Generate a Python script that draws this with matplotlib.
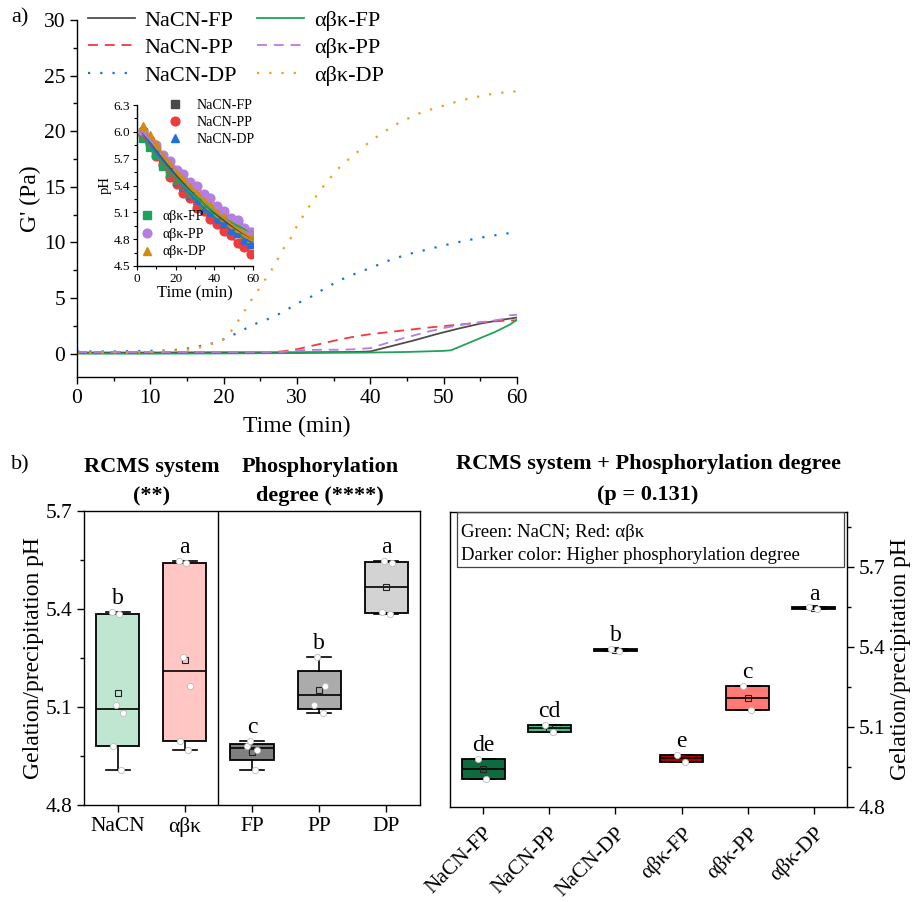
import numpy as np
import matplotlib
matplotlib.use('Agg')
import matplotlib.pyplot as plt
from matplotlib.ticker import MultipleLocator
from matplotlib.patches import Rectangle

plt.rcParams['font.family'] = ['Liberation Serif', 'DejaVu Serif']
plt.rcParams['axes.linewidth'] = 1.0
plt.rcParams['xtick.direction'] = 'out'
plt.rcParams['ytick.direction'] = 'out'

# ---------------- Panel a: G' (Pa) vs time ----------------
g_labels = ['NaCN-FP', 'NaCN-PP', 'NaCN-DP', 'αβκ-FP', 'αβκ-PP', 'αβκ-DP']
g_colors = ['#4d4d4d', '#ee3b3b', '#1f6fe0', '#1fa35c', '#b47fe0', '#f29f1c']

t_nacn_fp = [0, 10, 20, 30, 38, 40, 43, 46, 49, 52, 55, 58, 60]
g_nacn_fp = [0.1, 0.1, 0.12, 0.12, 0.15, 0.2, 0.7, 1.2, 1.75, 2.25, 2.7, 3.05, 3.25]
t_nacn_pp = [0, 10, 20, 26, 28, 30, 32, 34, 36, 38, 40, 42, 44, 46, 48, 50, 52, 55, 58, 60]
g_nacn_pp = [0.15, 0.15, 0.15, 0.15, 0.2, 0.4, 0.7, 1.0, 1.3, 1.55, 1.75, 1.9, 2.05, 2.2, 2.35, 2.48, 2.6, 2.8, 2.95, 3.0]
t_nacn_dp = [0, 5, 10, 13, 15, 17, 19, 20, 22, 24, 26, 28, 30, 32, 34, 36, 38, 40, 43, 45.5, 48, 50, 52.5, 55, 57.5, 60]
g_nacn_dp = [0.2, 0.2, 0.25, 0.3, 0.45, 0.7, 1.0, 1.3, 1.9, 2.6, 3.1, 3.7, 4.5, 5.15, 5.95, 6.65, 7.2, 7.7, 8.5, 9.0, 9.4, 9.73, 10.1, 10.42, 10.7, 10.93]
t_abk_fp = [0, 10, 20, 30, 40, 45, 50, 51, 53, 55, 57, 59, 60]
g_abk_fp = [0.0, 0.0, 0.02, 0.05, 0.1, 0.15, 0.25, 0.3, 0.85, 1.4, 1.95, 2.6, 3.05]
t_abk_pp = [0, 10, 20, 28, 30, 33, 36, 38, 40, 42, 44, 46, 48, 50, 52, 54, 56, 58, 59, 60]
g_abk_pp = [0.15, 0.15, 0.15, 0.15, 0.3, 0.35, 0.35, 0.4, 0.5, 0.9, 1.3, 1.65, 2.0, 2.3, 2.55, 2.75, 2.9, 3.1, 3.45, 3.5]
t_abk_dp = [0, 5, 10, 13, 15, 17, 19, 20, 21, 22, 23, 24, 25, 26, 27, 28, 29, 30, 32, 34, 36, 38, 40, 42, 44, 47, 50, 52.5, 55, 57, 60]
g_abk_dp = [0.1, 0.1, 0.15, 0.25, 0.35, 0.6, 1.0, 1.3, 2.0, 2.97, 4.0, 5.07, 6.0, 7.0, 8.0, 9.3, 10.2, 11.5, 13.6, 15.4, 16.9, 18.0, 19.1, 20.0, 20.8, 21.7, 22.3, 22.8, 23.15, 23.4, 23.6]

# ---------------- Inset: pH vs time ----------------
ph_time = [3, 6.5, 10, 13.5, 17, 20.5, 24, 27.5, 31, 34.5, 38, 41.5, 45, 48.5, 52, 55.5, 59]
ph_nacn_fp = [6.00, 5.89, 5.80, 5.67, 5.59, 5.48, 5.42, 5.33, 5.28, 5.19, 5.15, 5.07, 5.03, 4.95, 4.92, 4.85, 4.80]
ph_nacn_pp = [5.97, 5.87, 5.73, 5.63, 5.49, 5.42, 5.32, 5.26, 5.15, 5.11, 5.02, 4.97, 4.89, 4.85, 4.76, 4.71, 4.63]
ph_nacn_dp = [6.02, 5.86, 5.78, 5.64, 5.56, 5.45, 5.39, 5.29, 5.24, 5.15, 5.10, 5.02, 4.98, 4.90, 4.87, 4.79, 4.75]
ph_abk_fp = [5.93, 5.83, 5.75, 5.62, 5.54, 5.46, 5.41, 5.32, 5.28, 5.19, 5.15, 5.08, 5.05, 4.98, 4.96, 4.90, 4.88]
ph_abk_pp = [6.01, 5.91, 5.85, 5.74, 5.67, 5.57, 5.53, 5.44, 5.40, 5.30, 5.26, 5.17, 5.12, 5.04, 5.01, 4.92, 4.88]
ph_abk_dp = [6.06, 5.96, 5.86, 5.73, 5.65, 5.54, 5.48, 5.38, 5.32, 5.23, 5.18, 5.09, 5.05, 4.97, 4.93, 4.86, 4.81]
ph_colors = ['#4a4a4a', '#ee3b3b', '#1f6fe0', '#1fa35c', '#b47fe0', '#d08c10']
ph_markers = ['s', 'o', '^', 's', 'o', '^']

# ---------------- Panel b: gelation / precipitation pH ----------------
rep_nacn_fp = [4.980, 4.906]
rep_nacn_pp = [5.107, 5.082]
rep_nacn_dp = [5.392, 5.384]
rep_abk_fp = [4.996, 4.969]
rep_abk_pp = [5.254, 5.165]
rep_abk_dp = [5.548, 5.540]

left_labels = ['NaCN', 'αβκ', 'FP', 'PP', 'DP']
left_letters = ['b', 'a', 'c', 'b', 'a']
left_colors = ['#bfe6d0', '#ffc6c4', '#808080', '#ababab', '#d3d3d3']

right_labels = ['NaCN-FP', 'NaCN-PP', 'NaCN-DP', 'αβκ-FP', 'αβκ-PP', 'αβκ-DP']
right_letters = ['de', 'cd', 'b', 'e', 'c', 'a']
right_colors = ['#0e6b3f', '#4dba88', '#1a8a56', '#b00000', '#ff7a76', '#e03030']

FS_TICK = 15.5
FS_LAB = 17

fig = plt.figure(figsize=(9.21, 9.02), dpi=100)
W, H = 921.0, 902.0


def axes_px(x0, y0, x1, y1):
    return fig.add_axes([x0 / W, 1 - y1 / H, (x1 - x0) / W, (y1 - y0) / H])


# ===== panel a =====
ax = axes_px(77, 20, 517, 377)
dash = (0, (5.5, 3.8))
dot = (0, (1, 4.5))
styles = ['-', dash, dot, '-', dash, dot]
t_all = [t_nacn_fp, t_nacn_pp, t_nacn_dp, t_abk_fp, t_abk_pp, t_abk_dp]
g_all = [g_nacn_fp, g_nacn_pp, g_nacn_dp, g_abk_fp, g_abk_pp, g_abk_dp]
handles = []
for t, g, c, s, lab in zip(t_all, g_all, g_colors, styles, g_labels):
    lw = 1.6 if s == dot else 1.3
    h, = ax.plot(t, g, color=c, linestyle=s, lw=lw, label=lab)
    handles.append(h)
ax.set_xlim(0, 60)
ax.set_ylim(-2.1, 30)
ax.xaxis.set_major_locator(MultipleLocator(10))
ax.xaxis.set_minor_locator(MultipleLocator(5))
ax.yaxis.set_major_locator(MultipleLocator(5))
ax.yaxis.set_minor_locator(MultipleLocator(2.5))
ax.spines['top'].set_visible(False)
ax.spines['right'].set_visible(False)
ax.tick_params(labelsize=FS_TICK, length=5, width=1.0)
ax.tick_params(which='minor', length=3, width=1.0)
ax.set_xlabel('Time (min)', fontsize=FS_LAB, labelpad=6)
ax.set_ylabel("G' (Pa)", fontsize=FS_LAB)
ax.yaxis.set_label_coords(-0.082, 0.5)
leg = ax.legend(handles=handles, ncol=2, loc='upper left', frameon=False,
                bbox_to_anchor=(88 / W, 1 - 10 / H), bbox_transform=fig.transFigure,
                fontsize=16, handlelength=2.1, handletextpad=0.45, columnspacing=0.9,
                labelspacing=0.32, borderpad=0, borderaxespad=0)

# ===== inset =====
ai = axes_px(137, 105, 253, 266)
ph_all = [ph_nacn_fp, ph_nacn_pp, ph_nacn_dp, ph_abk_fp, ph_abk_pp, ph_abk_dp]
ih = []
for ph, c, m, lab in zip(ph_all, ph_colors, ph_markers, g_labels):
    h, = ai.plot(ph_time, ph, linestyle='none', marker=m, color=c, ms=6.3, label=lab)
    ih.append(h)
for ph, c in zip(ph_all, ph_colors):
    coef = np.polyfit(ph_time, ph, 2)
    tt = np.linspace(ph_time[0], 60, 100)
    ai.plot(tt, np.polyval(coef, tt), color=c, lw=1.3)
ai.set_xlim(0, 60)
ai.set_ylim(4.5, 6.3)
ai.xaxis.set_major_locator(MultipleLocator(20))
ai.xaxis.set_minor_locator(MultipleLocator(10))
ai.yaxis.set_major_locator(MultipleLocator(0.3))
ai.yaxis.set_minor_locator(MultipleLocator(0.15))
ai.yaxis.set_major_formatter(matplotlib.ticker.FormatStrFormatter('%.1f'))
ai.spines['top'].set_visible(False)
ai.spines['right'].set_visible(False)
ai.tick_params(labelsize=9.5, length=3, width=0.8, pad=2)
ai.tick_params(which='minor', length=2, width=0.8)
ai.set_xlabel('Time (min)', fontsize=12, labelpad=0)
ai.set_ylabel('pH', fontsize=10.5, labelpad=1)
l1 = ai.legend(handles=ih[:3], loc='upper left', bbox_to_anchor=(0.27, 1.04), frameon=False,
               fontsize=10, handlelength=1.0, handletextpad=1.0, labelspacing=0.3,
               borderpad=0, borderaxespad=0)
ai.add_artist(l1)
ai.legend(handles=ih[3:], loc='upper left', bbox_to_anchor=(0.03, 0.35), frameon=False,
          fontsize=10, handlelength=1.0, handletextpad=0.55, labelspacing=0.35,
          borderpad=0, borderaxespad=0)


def hinge_stats(vals):
    v = np.sort(np.asarray(vals, float))
    n = len(v)
    half = (n + 1) // 2
    return dict(med=np.median(v), q1=np.median(v[:half]), q3=np.median(v[n - half:]),
                whislo=v[0], whishi=v[-1], mean=v.mean(), fliers=[])


def draw_boxes(axb, groups, colors, width, capw):
    stats = [hinge_stats(g) for g in groups]
    pos = np.arange(len(groups))
    bp = axb.bxp(stats, positions=pos, widths=width, patch_artist=True, showmeans=True,
                 showfliers=False, capwidths=capw,
                 meanprops=dict(marker='s', mfc='none', mec='#222222', ms=4, mew=0.8),
                 medianprops=dict(color='black', lw=1.2),
                 boxprops=dict(lw=1.3, edgecolor='black'),
                 whiskerprops=dict(lw=1.2, color='black'),
                 capprops=dict(lw=1.2, color='black'))
    for patch, c in zip(bp['boxes'], colors):
        patch.set_facecolor(c)
    jit = np.array([-0.07, 0.05, -0.03, 0.08, -0.09, 0.02])
    for i, g in enumerate(groups):
        axb.plot(i + jit[:len(g)], g, linestyle='none', marker='o', ms=4.5, mfc='white',
                 mec='#bbbbbb', mew=0.6, zorder=5)
    return stats


# ===== panel b left =====
abl = axes_px(84, 511, 420, 805)
groups_left = [rep_nacn_fp + rep_nacn_pp + rep_nacn_dp,
               rep_abk_fp + rep_abk_pp + rep_abk_dp,
               rep_nacn_fp + rep_abk_fp,
               rep_nacn_pp + rep_abk_pp,
               rep_nacn_dp + rep_abk_dp]
st = draw_boxes(abl, groups_left, left_colors, 0.64, 0.36)
abl.axvline(1.5, color='black', lw=1.0)
abl.set_xlim(-0.5, 4.5)
abl.set_ylim(4.8, 5.7)
abl.set_xticks(range(5))
abl.set_xticklabels(left_labels)
abl.yaxis.set_major_locator(MultipleLocator(0.3))
abl.yaxis.set_minor_locator(MultipleLocator(0.15))
abl.yaxis.set_major_formatter(matplotlib.ticker.FormatStrFormatter('%.1f'))
abl.tick_params(labelsize=FS_TICK, length=5, width=1.0)
abl.tick_params(which='minor', length=3, width=1.0)
abl.set_ylabel('Gelation/precipitation pH', fontsize=FS_LAB, labelpad=0)
abl.yaxis.set_label_coords(-0.12, 0.5)
for i, (s, lt) in enumerate(zip(st, left_letters)):
    abl.annotate(lt, (i, s['whishi']), xytext=(0, 5.5), textcoords='offset points',
                 ha='center', va='baseline', fontsize=17)

# ===== panel b right =====
abr = axes_px(450, 512, 847, 807)
groups_right = [rep_nacn_fp, rep_nacn_pp, rep_nacn_dp, rep_abk_fp, rep_abk_pp, rep_abk_dp]
st2 = draw_boxes(abr, groups_right, right_colors, 0.65, 0.36)
abr.set_xlim(-0.5, 5.5)
abr.set_ylim(4.8, 5.905)
abr.set_xticks(range(6))
abr.set_xticklabels(right_labels, rotation=45, ha='right', va='top', rotation_mode='anchor')
abr.yaxis.tick_right()
abr.yaxis.set_label_position('right')
abr.yaxis.set_major_locator(MultipleLocator(0.3))
abr.yaxis.set_minor_locator(MultipleLocator(0.15))
abr.yaxis.set_major_formatter(matplotlib.ticker.FormatStrFormatter('%.1f'))
abr.tick_params(labelsize=FS_TICK, length=5, width=1.0)
abr.tick_params(axis='x', pad=7)
abr.tick_params(which='minor', length=3, width=1.0)
abr.set_ylabel('Gelation/precipitation pH', fontsize=FS_LAB, labelpad=0)
abr.yaxis.set_label_coords(1.108, 0.5)
for i, (s, lt) in enumerate(zip(st2, right_letters)):
    abr.annotate(lt, (i, s['whishi']), xytext=(0, 5.5), textcoords='offset points',
                 ha='center', va='baseline', fontsize=17)
abr.add_patch(Rectangle((0.018, 0.813), 0.974, 0.187, transform=abr.transAxes,
                        fill=False, ec='#444444', lw=0.9, zorder=6))
abr.text(0.028, 0.929, 'Green: NaCN; Red: αβκ', transform=abr.transAxes,
         ha='left', va='center', fontsize=13.5)
abr.text(0.028, 0.854, 'Darker color: Higher phosphorylation degree', transform=abr.transAxes,
         ha='left', va='center', fontsize=13.5)

# ===== titles and panel letters =====
fig.text(20 / W, 1 - 18 / H, 'a)', fontsize=16, ha='center', va='center')
fig.text(20 / W, 1 - 465 / H, 'b)', fontsize=16, ha='center', va='center')
tb = dict(fontsize=16, fontweight='bold', ha='center', va='center')
fig.text(152 / W, 1 - 467 / H, 'RCMS system', **tb)
fig.text(152 / W, 1 - 496 / H, '(**)', **tb)
fig.text(320 / W, 1 - 467 / H, 'Phosphorylation', **tb)
fig.text(320 / W, 1 - 496 / H, 'degree (****)', **tb)
fig.text(648 / W, 1 - 464 / H, 'RCMS system + Phosphorylation degree', **tb)
fig.text(648 / W, 1 - 495 / H, '(p = 0.131)', **tb)

fig.savefig('out.png', dpi=100)
